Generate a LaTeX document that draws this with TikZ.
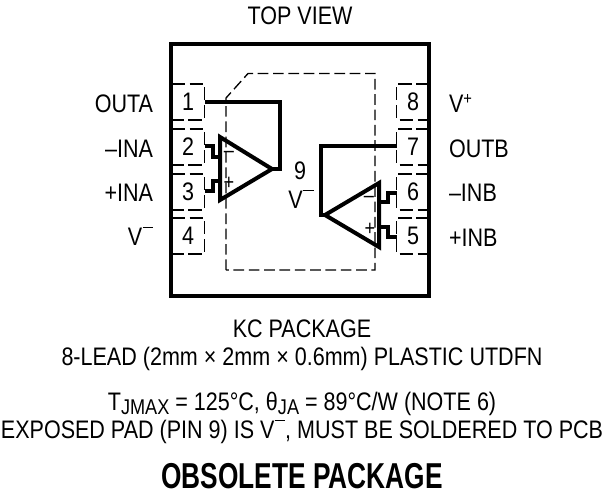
\documentclass[tikz,border=0pt]{standalone}
\usepackage{fontspec}
\setmainfont[FakeStretch=0.85]{Liberation Sans}
\newfontfamily\heavyfont[FakeStretch=0.73]{Liberation Sans}
\newcommand\supminus{\kern0.4pt\rule[0.66em]{0.40em}{0.055em}}
\newcommand\supplus{\raisebox{0.30em}{\fontsize{13}{13}\selectfont +}}
\newcommand\subtxt[1]{\raisebox{-3.6pt}{\fontsize{16}{16}\selectfont #1}}
\newcommand\pn[1]{\lower0.8pt\hbox{#1}}
\tikzset{
 every node/.style={inner sep=0pt,outer sep=0pt,font=\fontsize{19}{20}\selectfont},
 wall/.style={line width=3.6pt,miter limit=10},
 wire/.style={line width=2.5pt,line join=miter},
 amp/.style={line width=3pt,line join=miter},
 pad/.style={line width=1pt,dash pattern=on 8pt off 3.5pt},
 pinbox/.style={line width=1pt,dash pattern=on 10pt off 3.5pt},
 pinnum/.style={minimum width=24.75pt,minimum height=27pt},
 signmark/.style={font=\fontsize{16}{16}\selectfont},
 captext/.style={anchor=base}
}
\begin{document}
\begin{tikzpicture}[x=0.75pt,y=-0.75pt]
\useasboundingbox (0,0) rectangle (606,500);
\fill[white] (0,0) rectangle (606,500);
% package
\node[captext] (topview) at (300,24) {TOP VIEW};
\draw[wall] (171,44) rectangle (429,296);
% pins
\node[pinnum] (p1) at (188,102) {\pn{1}};
\node[pinnum] (p2) at (188,147) {\pn{2}};
\node[pinnum] (p3) at (188,192) {\pn{3}};
\node[pinnum] (p4) at (188,236) {\pn{4}};
\node[pinnum] (p8) at (413,102) {\pn{8}};
\node[pinnum] (p7) at (413,147) {\pn{7}};
\node[pinnum] (p6) at (413,192) {\pn{6}};
\node[pinnum] (p5) at (413,236) {\pn{5}};
\foreach \p in {p1,p2,p3,p4}
  \draw[pinbox] (\p.north west) -- (\p.north east) -- (\p.south east) -- (\p.south west);
\foreach \p in {p8,p7,p6,p5}
  \draw[pinbox] (\p.north east) -- (\p.north west) -- (\p.south west) -- (\p.south east);
% exposed pad
\draw[pad] (226,270) -- (226,98) -- (248,73.5) -- (375,73.5) -- (375,270) -- cycle;
% amp A
\coordinate (aT) at (220,137);
\coordinate (aB) at (220,200);
\coordinate (aO) at (272,169);
\draw[amp] (aT) -- (aO) -- (aB) -- cycle;
\draw[wire] (p1.east) -- (280,102) -- (280,169) -- (aO);
\draw[wire] (p2.east|-0,146) -- (213,146) -- (213,157) -- (220,157);
\draw[wire] (p3.east|-0,191) -- (213,191) -- (213,181) -- (220,181);
\node[signmark] (am) at (229,154) {–};
\node[signmark] (ap) at (229,183) {+};
% amp B
\coordinate (bT) at (379,183);
\coordinate (bB) at (379,247);
\coordinate (bO) at (325,215);
\draw[amp] (bT) -- (bO) -- (bB) -- cycle;
\draw[wire] (p7.west|-0,146) -- (321,146) -- (321,215) -- (bO);
\draw[wire] (p6.west|-0,193) -- (388,193) -- (388,202) -- (379,202);
\draw[wire] (p5.west|-0,237) -- (388,237) -- (388,227) -- (379,227);
\node[signmark] (bm) at (369,199) {–};
\node[signmark] (bp) at (370,229) {+};
% pin labels
\node[anchor=base east] (l1) at (153,112) {OUTA};
\node[anchor=base east] (l2) at (153,157) {–INA};
\node[anchor=base east] (l3) at (153,201) {+INA};
\node[anchor=base east] (l4) at (153,245) {V\supminus};
\node[anchor=base west] (l8) at (449,112) {V\supplus};
\node[anchor=base west] (l7) at (449,157) {OUTB};
\node[anchor=base west] (l6) at (449,201) {–INB};
\node[anchor=base west] (l5) at (449,246) {+INB};
\node[captext] (nine) at (300,179) {9};
\node[captext] (vm) at (301,208) {V\supminus};
% captions
\node[captext] (c1) at (302,337) {KC PACKAGE};
\node[captext] (c2) at (302,365) {8-LEAD (2mm × 2mm × 0.6mm) PLASTIC UTDFN};
\node[captext] (c3) at (302,410) {T\subtxt{JMAX} = 125°C, θ\subtxt{JA} = 89°C/W (NOTE 6)};
\node[captext] (c4) at (302,438) {EXPOSED PAD (PIN 9) IS V\supminus, MUST BE SOLDERED TO PCB};
\node[captext,font=\heavyfont\bfseries\fontsize{27}{28}\selectfont] (c5) at (302,488) {OBSOLETE PACKAGE};
\end{tikzpicture}
\end{document}
